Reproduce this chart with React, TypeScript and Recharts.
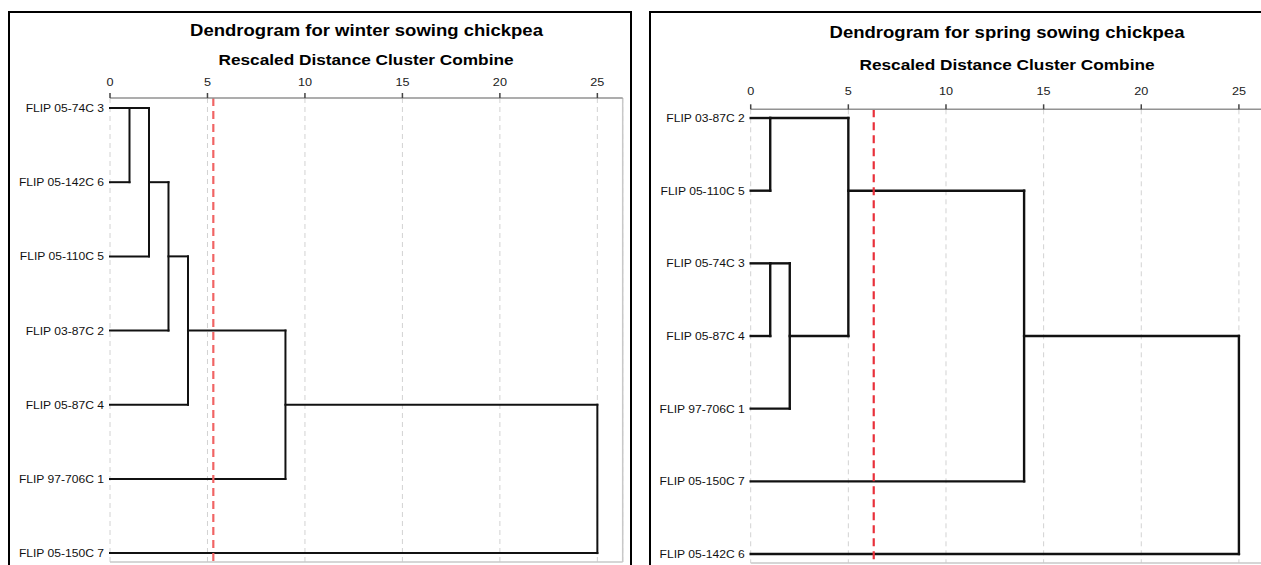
import React from "react";
import { ComposedChart, XAxis, YAxis, CartesianGrid, ReferenceLine } from "recharts";

// Rescaled distance axis ticks shared by both dendrograms
const distanceTicks = [0, 5, 10, 15, 20, 25];

// Winter sowing: leaf order from top to bottom
const winterLeaves = [
  "FLIP 05-74C 3",
  "FLIP 05-142C 6",
  "FLIP 05-110C 5",
  "FLIP 03-87C 2",
  "FLIP 05-87C 4",
  "FLIP 97-706C 1",
  "FLIP 05-150C 7",
];
// Agglomeration steps: cluster A joins cluster B at the rescaled distance.
// Ids below the leaf count are leaves, higher ids are earlier steps.
const winterMergeA = [0, 7, 8, 9, 10, 11];
const winterMergeB = [1, 2, 3, 4, 5, 6];
const winterMergeDist = [1, 2, 3, 4, 9, 25];
const winterCutoff = 5.3;

// Spring sowing
const springLeaves = [
  "FLIP 03-87C 2",
  "FLIP 05-110C 5",
  "FLIP 05-74C 3",
  "FLIP 05-87C 4",
  "FLIP 97-706C 1",
  "FLIP 05-150C 7",
  "FLIP 05-142C 6",
];
const springMergeA = [0, 2, 8, 7, 10, 11];
const springMergeB = [1, 3, 4, 9, 5, 6];
const springMergeDist = [1, 1, 2, 5, 14, 25];
const springCutoff = 6.3;

type Seg = { x1: number; y1: number; x2: number; y2: number };

// Turn the agglomeration schedule into elbow segments (row = leaf slot, x = distance)
function buildSegments(n: number, A: number[], B: number[], D: number[]): Seg[] {
  const row: number[] = Array.from({ length: n }, (_, i) => i);
  const height: number[] = Array(n).fill(0);
  const segs: Seg[] = [];
  A.forEach((a, i) => {
    const b = B[i];
    const d = D[i];
    segs.push({ x1: height[a], y1: row[a], x2: d, y2: row[a] });
    segs.push({ x1: height[b], y1: row[b], x2: d, y2: row[b] });
    segs.push({ x1: d, y1: Math.min(row[a], row[b]), x2: d, y2: Math.max(row[a], row[b]) });
    row.push(Math.floor((row[a] + row[b]) / 2));
    height.push(d);
  });
  return segs;
}

const FONT = "'Liberation Sans', Arial, Helvetica, sans-serif";

const DistanceTick = (props: any) => {
  const { x, y, payload } = props;
  return (
    <text
      transform={`translate(${x},${y}) scale(1.15,1)`}
      textAnchor="middle"
      fontSize={11}
      fontFamily={FONT}
      fill="#222"
    >
      {payload.value}
    </text>
  );
};

const makeLeafTick = (labels: string[]) => (props: any) => {
  const { x, y, payload } = props;
  return (
    <text
      transform={`translate(${x},${y + 4}) scale(1.1,1)`}
      textAnchor="end"
      fontSize={11}
      fontFamily={FONT}
      fill="#111"
    >
      {labels[payload.value]}
    </text>
  );
};

type PanelProps = {
  leaves: string[];
  segs: Seg[];
  cutoff: number;
  cutoffColor: string;
  left: number;
  margin: { top: number; left: number; right: number; bottom: number };
  yDomain: [number, number];
  tickMargin: number;
  lineWidth: number;
};

const X_MAX = 26.3;

function DendroPanel(p: PanelProps) {
  const rows = p.leaves.map((_, i) => i);
  return (
    <div style={{ position: "absolute", left: p.left, top: 0 }}>
      <ComposedChart width={640} height={600} margin={p.margin} data={[]}>
        <CartesianGrid horizontal={false} stroke="#d2d2d2" strokeDasharray="5 4" />
        <XAxis
          type="number"
          orientation="top"
          dataKey="x"
          domain={[0, X_MAX]}
          ticks={distanceTicks}
          interval={0}
          height={30}
          allowDataOverflow
          axisLine={{ stroke: "#929292", strokeWidth: 1.5 }}
          tickLine={{ stroke: "#444", strokeWidth: 1.5 }}
          tickSize={5}
          tickMargin={p.tickMargin}
          tick={<DistanceTick />}
        />
        <YAxis
          type="number"
          dataKey="y"
          domain={p.yDomain}
          reversed
          ticks={rows}
          interval={0}
          width={100}
          allowDataOverflow
          axisLine={false}
          tickLine={false}
          tickSize={4}
          tickMargin={2}
          tick={makeLeafTick(p.leaves)}
        />
        <ReferenceLine x={X_MAX} stroke="#c8c8c8" strokeWidth={1.5} />
        <ReferenceLine y={p.yDomain[1]} stroke="#c8c8c8" strokeWidth={1.5} />
        {p.segs.map((s, i) => (
          <ReferenceLine
            key={i}
            segment={[
              { x: s.x1, y: s.y1 },
              { x: s.x2, y: s.y2 },
            ]}
            stroke="#111"
            strokeWidth={p.lineWidth}
            strokeLinecap="square"
          />
        ))}
        <ReferenceLine
          x={p.cutoff}
          stroke={p.cutoffColor}
          strokeWidth={2.2}
          strokeDasharray="8 5"
        />
      </ComposedChart>
    </div>
  );
}

const winterSegs = buildSegments(winterLeaves.length, winterMergeA, winterMergeB, winterMergeDist);
const springSegs = buildSegments(springLeaves.length, springMergeA, springMergeB, springMergeDist);

export default function App() {
  return (
    <div
      style={{
        position: "absolute",
        left: 0,
        top: 0,
        width: 1261,
        height: 565,
        overflow: "hidden",
        background: "#fff",
      }}
    >
      <div
        style={{
          position: "absolute",
          left: 8,
          top: 11,
          width: 624,
          height: 620,
          border: "2px solid #000",
          boxSizing: "border-box",
        }}
      />
      <div
        style={{
          position: "absolute",
          left: 649,
          top: 11,
          width: 700,
          height: 620,
          border: "2px solid #000",
          boxSizing: "border-box",
        }}
      />
      <DendroPanel
        leaves={winterLeaves}
        segs={winterSegs}
        cutoff={winterCutoff}
        cutoffColor="#f06464"
        left={0}
        margin={{ top: 68, left: 10, right: 17.3, bottom: 38 }}
        yDomain={[-0.135, 6.12]}
        tickMargin={7}
        lineWidth={2}
      />
      <DendroPanel
        leaves={springLeaves}
        segs={springSegs}
        cutoff={springCutoff}
        cutoffColor="#e8303a"
        left={640}
        margin={{ top: 79.3, left: 10.7, right: 15.7, bottom: 37 }}
        yDomain={[-0.12, 6.124]}
        tickMargin={9.3}
        lineWidth={2.4}
      />
      <svg
        width={1261}
        height={565}
        style={{ position: "absolute", left: 0, top: 0, pointerEvents: "none" }}
      >
        <g fontFamily={FONT} fontWeight="bold" fill="#000">
          <text transform="translate(366.5,36) scale(1.09,1)" textAnchor="middle" fontSize={17}>
            Dendrogram for winter sowing chickpea
          </text>
          <text transform="translate(366,64.5) scale(1.15,1)" textAnchor="middle" fontSize={15}>
            Rescaled Distance Cluster Combine
          </text>
          <text transform="translate(1007,37.7) scale(1.09,1)" textAnchor="middle" fontSize={17}>
            Dendrogram for spring sowing chickpea
          </text>
          <text transform="translate(1007,69.5) scale(1.15,1)" textAnchor="middle" fontSize={15}>
            Rescaled Distance Cluster Combine
          </text>
        </g>
      </svg>
    </div>
  );
}
